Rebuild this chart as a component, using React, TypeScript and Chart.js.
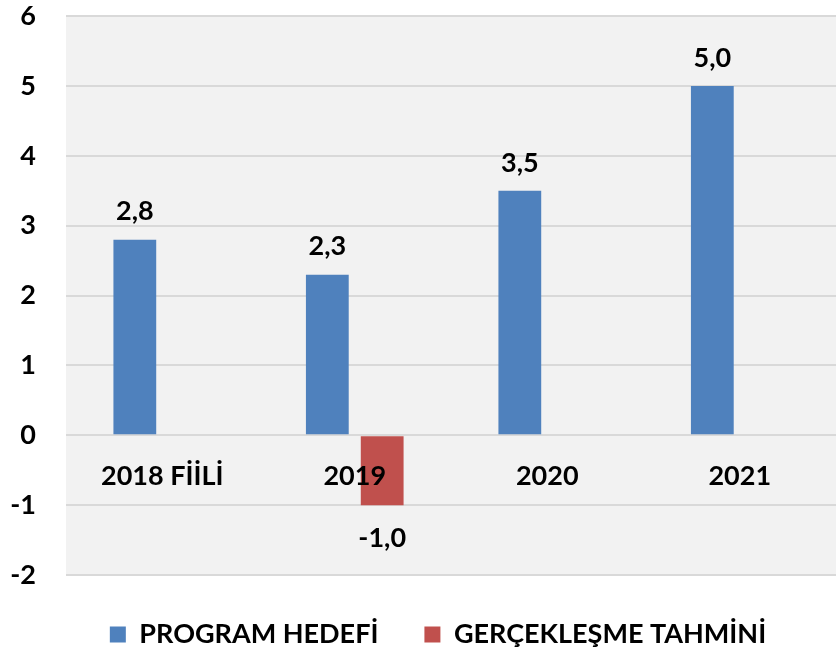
import React, { useEffect, useRef } from "react";
import { Chart, registerables } from "chart.js";

Chart.register(...registerables);

const categories = ["2018 FİİLİ", "2019", "2020", "2021"];
const programHedefi = [2.8, 2.3, 3.5, 5.0];
const gerceklesmeTahmini = [null, -1.0, null, null];
const seriesNames = ["PROGRAM HEDEFİ", "GERÇEKLEŞME TAHMİNİ"];
const yMin = -2;
const yMax = 6;

const FONT = "Lato, 'Liberation Sans', sans-serif";

const plotBg = {
  id: "plotBg",
  beforeDraw(chart: any) {
    const { ctx, chartArea } = chart;
    ctx.save();
    ctx.fillStyle = "#F2F2F2";
    ctx.fillRect(chartArea.left, chartArea.top, chartArea.right - chartArea.left, chartArea.bottom - chartArea.top);
    ctx.restore();
  },
};

const legendShift = {
  id: "legendShift",
  afterLayout(chart: any) {
    if (chart.legend) {
      chart.legend.left = 40;
    }
  },
};

const valueLabels = {
  id: "valueLabels",
  afterDatasetsDraw(chart: any) {
    const { ctx } = chart;
    ctx.save();
    ctx.font = `bold 27px ${FONT}`;
    ctx.fillStyle = "#000";
    ctx.textAlign = "center";
    ctx.textBaseline = "middle";
    chart.data.datasets.forEach((ds: any, di: number) => {
      const meta = chart.getDatasetMeta(di);
      meta.data.forEach((el: any, i: number) => {
        const v = ds.data[i];
        if (v === null || v === undefined) return;
        const txt = v.toFixed(1).replace(".", ",");
        const y = v >= 0 ? el.y - 28 : el.y + 33;
        ctx.fillText(txt, el.x, y);
      });
    });
    ctx.restore();
  },
};

export default function App() {
  const ref = useRef<HTMLCanvasElement>(null);
  useEffect(() => {
    if (!ref.current) return;
    const chart = new Chart(ref.current, {
      type: "bar",
      data: {
        labels: categories,
        datasets: [
          {
            label: seriesNames[0],
            data: programHedefi,
            backgroundColor: "#4F81BD",
            categoryPercentage: 0.57,
            barPercentage: 0.78,
          },
          {
            label: seriesNames[1],
            data: gerceklesmeTahmini as any,
            backgroundColor: "#C0504D",
            categoryPercentage: 0.57,
            barPercentage: 0.78,
          },
        ],
      },
      options: {
        animation: false,
        responsive: false,
        maintainAspectRatio: false,
        layout: { padding: { left: 0, right: 0, top: 15, bottom: -7 } },
        scales: {
          x: {
            position: { y: 0 } as any,
            grid: { display: false, drawTicks: false },
            border: { display: false },
            ticks: {
              z: 1,
              color: "#000",
              font: { family: FONT, weight: "bold", size: 27 },
              padding: 25,
              maxRotation: 0,
            } as any,
          },
          y: {
            min: yMin,
            max: yMax,
            afterFit(scale: any) {
              scale.width = 66;
            },
            grid: {
              color: "#D9D9D9",
              lineWidth: 2,
              drawTicks: true,
              tickLength: 30,
              tickColor: "rgba(0,0,0,0)",
            },
            border: { display: false },
            ticks: {
              stepSize: 1,
              color: "#000",
              font: { family: FONT, weight: "bold", size: 27 },
              padding: 0,
            },
          },
        },
        plugins: {
          legend: {
            position: "bottom",
            labels: {
              color: "#000",
              boxWidth: 16,
              boxHeight: 16,
              padding: 46,
              font: { family: FONT, weight: "bold", size: 27 },
            },
          },
          tooltip: { enabled: false },
        },
      },
      plugins: [plotBg, legendShift, valueLabels],
    });
    return () => chart.destroy();
  }, []);
  return (
    <div style={{ position: "fixed", left: 0, top: 0, width: 836, height: 651, background: "#fff" }}>
      <canvas ref={ref} width={836} height={651} />
    </div>
  );
}
